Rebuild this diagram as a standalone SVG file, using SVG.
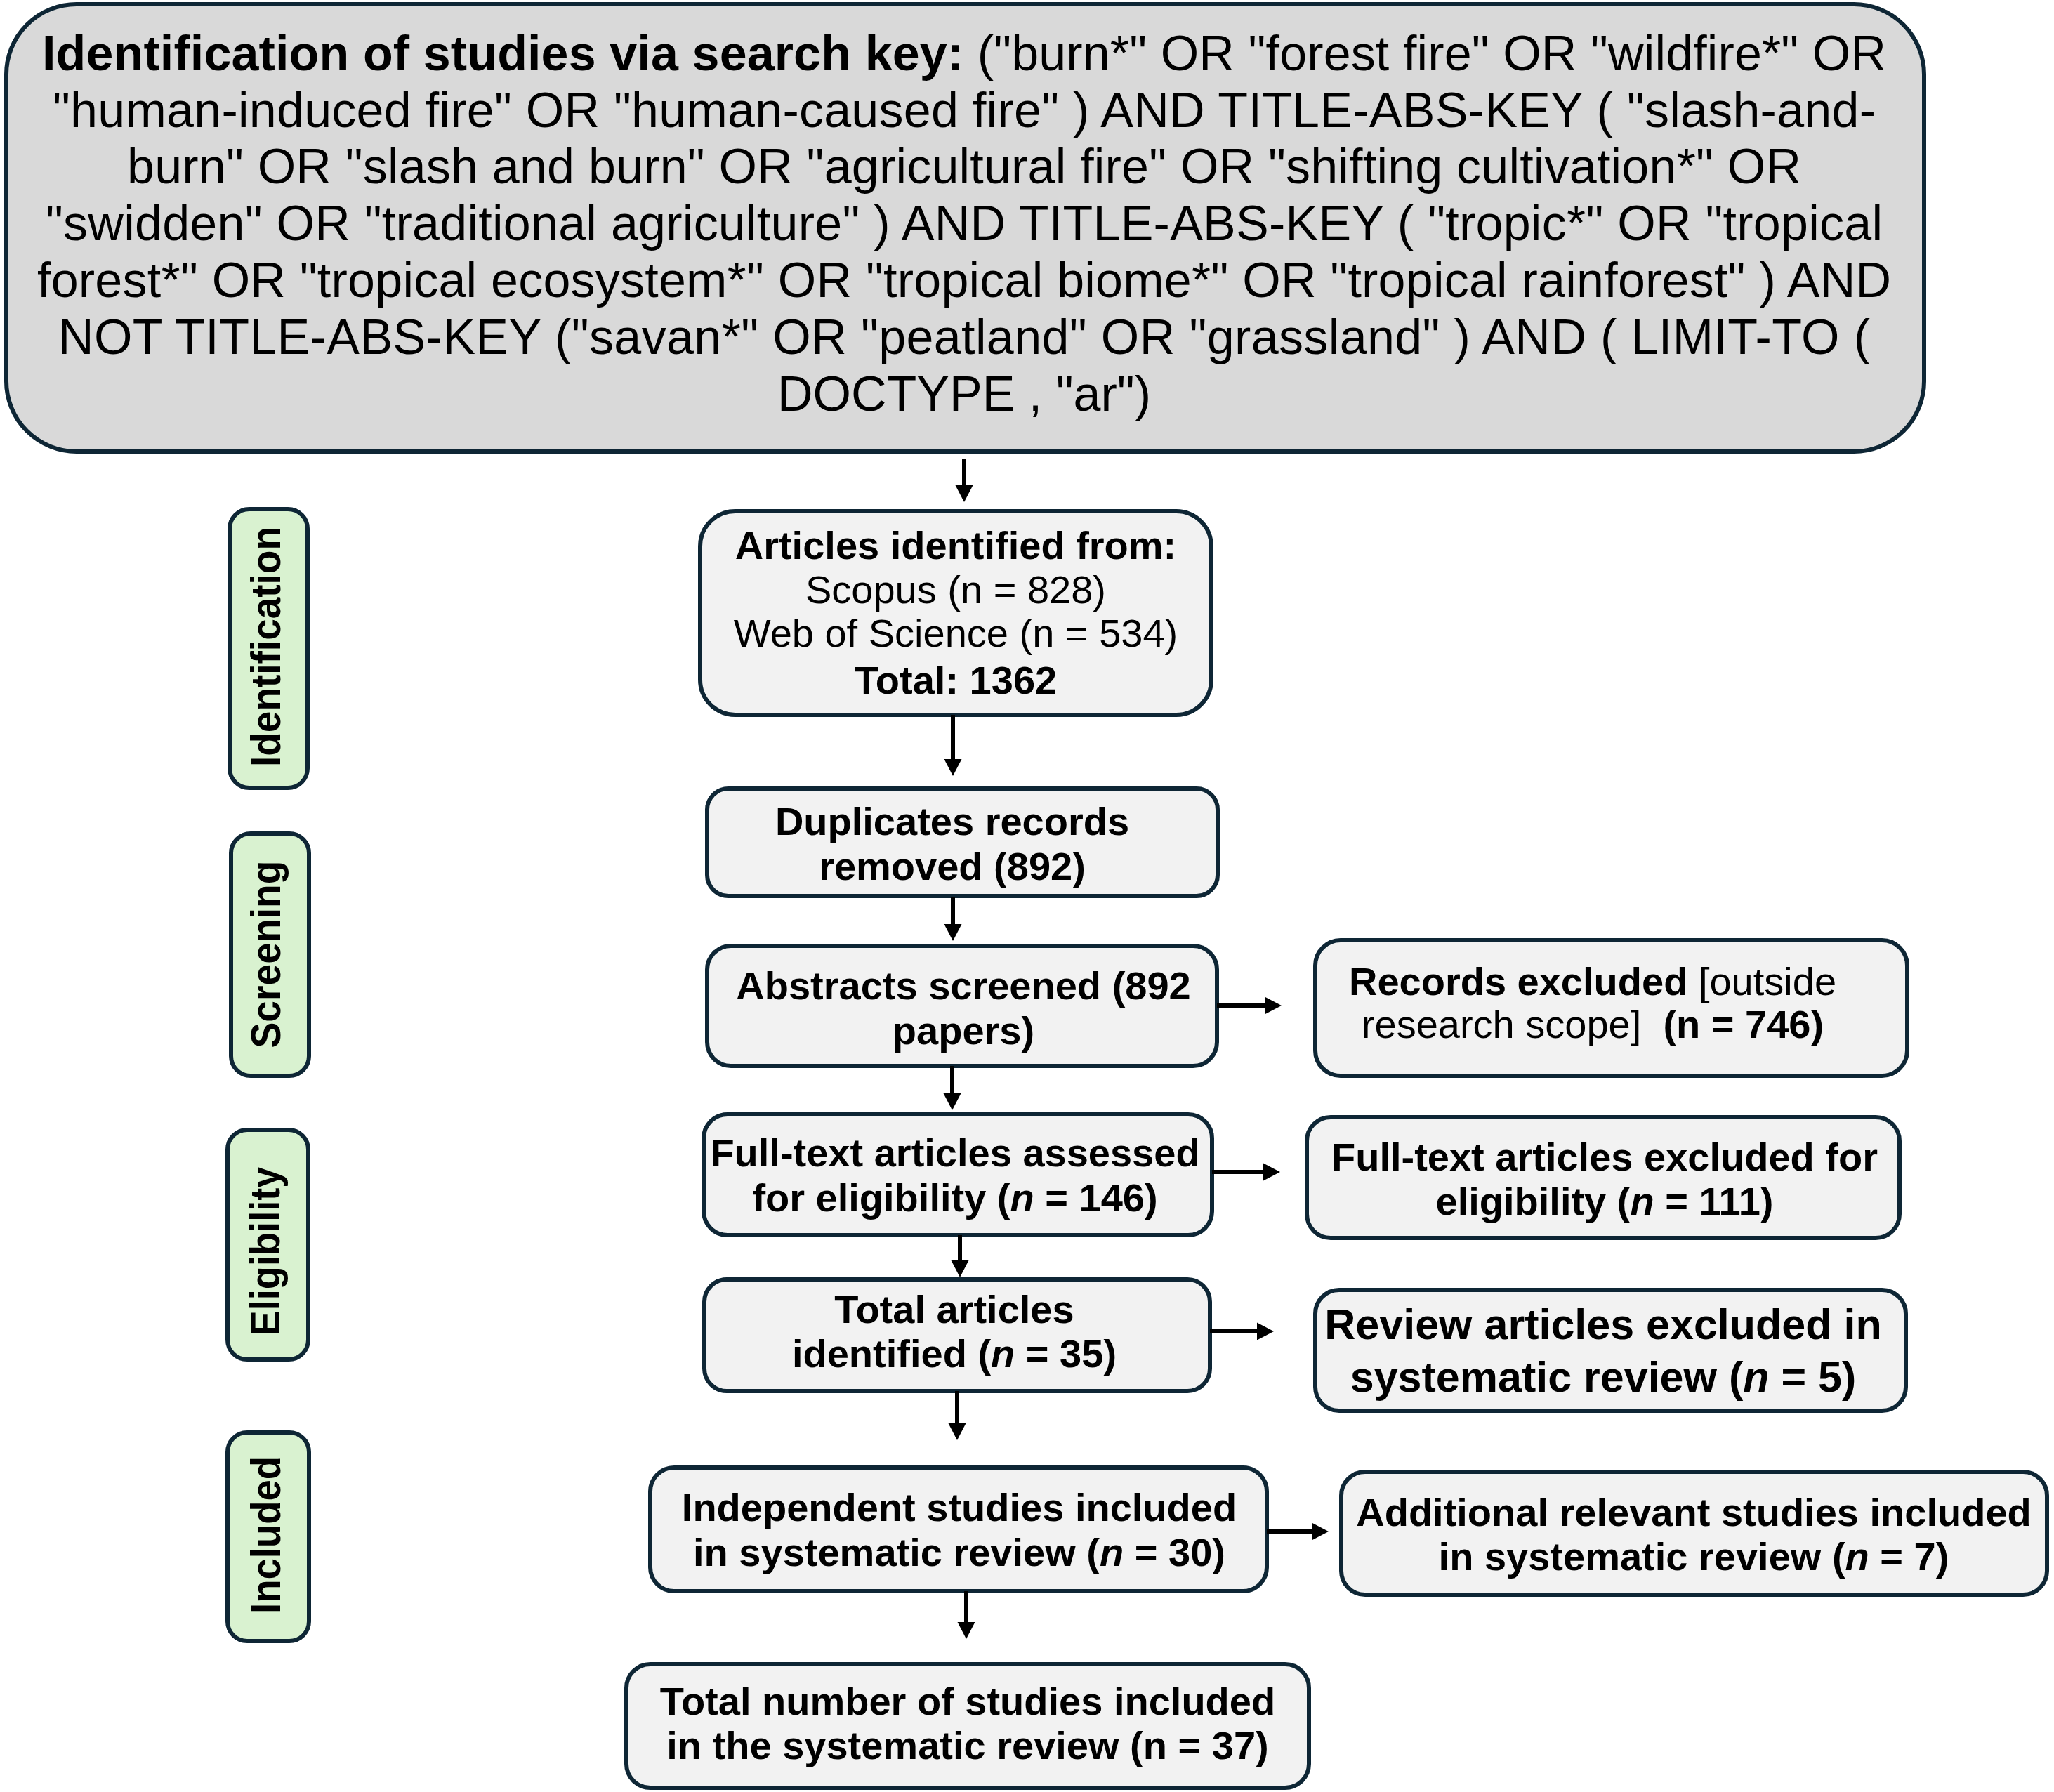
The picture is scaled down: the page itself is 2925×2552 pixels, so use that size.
<svg xmlns="http://www.w3.org/2000/svg" width="2925" height="2552" viewBox="0 0 2925 2552">
<defs>
<style>
.bg{fill:#ffffff}
.top{fill:#d9d9d9;stroke:#0e2635;stroke-width:6}
.box{fill:#f2f2f2;stroke:#0e2635;stroke-width:6}
.side{fill:#d9f2d0;stroke:#0e2635;stroke-width:6}
.t{font-family:"Liberation Sans",Arial,sans-serif;fill:#000;text-anchor:middle;white-space:pre}
.q{font-size:70px}
.n{font-size:56px;font-weight:bold}
.r{font-weight:normal}
.i{font-style:italic}
.s{font-family:"Liberation Sans",Arial,sans-serif;font-size:59px;font-weight:bold;fill:#000;text-anchor:middle}
.c{stroke:#000;stroke-width:6;fill:none}
</style>
<marker id="ah" markerUnits="userSpaceOnUse" markerWidth="26" markerHeight="26" viewBox="0 -13 26 26" refX="0" refY="0" orient="auto">
<path d="M0,-12.5 L24,0 L0,12.5 Z" fill="#000"/>
</marker>
</defs>
<rect class="bg" x="0" y="0" width="2925" height="2552"/>

<g id="search-key">
<rect class="top" x="9" y="6" width="2731" height="637" rx="100" ry="100"/>
<text class="t q" x="1373" y="100" textLength="2626" lengthAdjust="spacing"><tspan font-weight="bold">Identification of studies via search key:</tspan> ("burn*" OR "forest fire" OR "wildfire*" OR</text>
<text class="t q" x="1373" y="181" textLength="2596" lengthAdjust="spacing">"human-induced fire" OR "human-caused fire" ) AND TITLE-ABS-KEY ( "slash-and-</text>
<text class="t q" x="1373" y="261" textLength="2384" lengthAdjust="spacing">burn" OR "slash and burn" OR "agricultural fire" OR "shifting cultivation*" OR</text>
<text class="t q" x="1373" y="342" textLength="2616" lengthAdjust="spacing">"swidden" OR "traditional agriculture" ) AND TITLE-ABS-KEY ( "tropic*" OR "tropical</text>
<text class="t q" x="1373" y="423" textLength="2640" lengthAdjust="spacing">forest*" OR "tropical ecosystem*" OR "tropical biome*" OR "tropical rainforest" ) AND</text>
<text class="t q" x="1373" y="504" textLength="2580" lengthAdjust="spacing">NOT TITLE-ABS-KEY ("savan*" OR "peatland" OR "grassland" ) AND ( LIMIT-TO (</text>
<text class="t q" x="1373" y="585">DOCTYPE , "ar")</text>
</g>

<g id="label-identification">
<rect class="side" x="327" y="725" width="111" height="397" rx="28" ry="28"/>
<text class="s" x="399" y="921" transform="rotate(-90 399 921)" textLength="342" lengthAdjust="spacingAndGlyphs">Identification</text>
</g>
<g id="label-screening">
<rect class="side" x="329" y="1187" width="111" height="345" rx="28" ry="28"/>
<text class="s" x="399" y="1359" transform="rotate(-90 399 1359)" textLength="267" lengthAdjust="spacingAndGlyphs">Screening</text>
</g>
<g id="label-eligibility">
<rect class="side" x="324" y="1609" width="115" height="327" rx="28" ry="28"/>
<text class="s" x="398" y="1782" transform="rotate(-90 398 1782)" textLength="241" lengthAdjust="spacingAndGlyphs">Eligibility</text>
</g>
<g id="label-included">
<rect class="side" x="324" y="2040" width="116" height="297" rx="28" ry="28"/>
<text class="s" x="399" y="2186" transform="rotate(-90 399 2186)" textLength="224" lengthAdjust="spacingAndGlyphs">Included</text>
</g>

<g id="articles-identified">
<rect class="box" x="997" y="728" width="728" height="290" rx="50" ry="50"/>
<text class="t n" x="1361" y="796">Articles identified from:</text>
<text class="t n r" x="1361" y="859">Scopus (n = 828)</text>
<text class="t n r" x="1361" y="921">Web of Science (n = 534)</text>
<text class="t n" x="1361" y="988">Total: 1362</text>
</g>

<g id="duplicates-removed">
<rect class="box" x="1007" y="1123" width="727" height="153" rx="30" ry="30"/>
<text class="t n" x="1356" y="1189">Duplicates records</text>
<text class="t n" x="1356" y="1253">removed (892)</text>
</g>

<g id="abstracts-screened">
<rect class="box" x="1007" y="1347" width="726" height="171" rx="34" ry="34"/>
<text class="t n" x="1372" y="1423">Abstracts screened (892</text>
<text class="t n" x="1372" y="1487">papers)</text>
</g>

<g id="records-excluded">
<rect class="box" x="1873" y="1339" width="843" height="193" rx="36" ry="36"/>
<text class="t n" x="2268" y="1417">Records excluded<tspan class="r"> [outside</tspan></text>
<text class="t n" x="2268" y="1478"><tspan class="r">research scope]</tspan>  (n = 746)</text>
</g>

<g id="fulltext-assessed">
<rect class="box" x="1002" y="1587" width="724" height="172" rx="34" ry="34"/>
<text class="t n" x="1360" y="1661">Full-text articles assessed</text>
<text class="t n" x="1360" y="1725">for eligibility (<tspan class="i">n</tspan> = 146)</text>
</g>

<g id="fulltext-excluded">
<rect class="box" x="1861" y="1591" width="844" height="172" rx="34" ry="34"/>
<text class="t n" x="2285" y="1667">Full-text articles excluded for</text>
<text class="t n" x="2285" y="1730">eligibility (<tspan class="i">n</tspan> = 111)</text>
</g>

<g id="total-articles">
<rect class="box" x="1003" y="1822" width="720" height="159" rx="32" ry="32"/>
<text class="t n" x="1359" y="1884">Total articles</text>
<text class="t n" x="1359" y="1947">identified (<tspan class="i">n</tspan> = 35)</text>
</g>

<g id="review-excluded">
<rect class="box" x="1873" y="1837" width="841" height="172" rx="34" ry="34"/>
<text class="t n" x="2283" y="1907" style="font-size:61px">Review articles excluded in</text>
<text class="t n" x="2283" y="1982" style="font-size:61px">systematic review (<tspan class="i">n</tspan> = 5)</text>
</g>

<g id="independent-studies">
<rect class="box" x="926" y="2090" width="878" height="176" rx="34" ry="34"/>
<text class="t n" x="1366" y="2166">Independent studies included</text>
<text class="t n" x="1366" y="2230">in systematic review (<tspan class="i">n</tspan> = 30)</text>
</g>

<g id="additional-studies">
<rect class="box" x="1910" y="2096" width="1005" height="175" rx="34" ry="34"/>
<text class="t n" x="2412" y="2173">Additional relevant studies included</text>
<text class="t n" x="2412" y="2236">in systematic review (<tspan class="i">n</tspan> = 7)</text>
</g>

<g id="total-studies">
<rect class="box" x="892" y="2370" width="972" height="176" rx="34" ry="34"/>
<text class="t n" x="1378" y="2442">Total number of studies included</text>
<text class="t n" x="1378" y="2505">in the systematic review (n = 37)</text>
</g>

<g id="connectors">
<path class="c" d="M1373,653 V691" marker-end="url(#ah)"/>
<path class="c" d="M1357,1018 V1081" marker-end="url(#ah)"/>
<path class="c" d="M1357,1278 V1316" marker-end="url(#ah)"/>
<path class="c" d="M1356,1518 V1557" marker-end="url(#ah)"/>
<path class="c" d="M1733,1432 H1801" marker-end="url(#ah)"/>
<path class="c" d="M1367,1759 V1795" marker-end="url(#ah)"/>
<path class="c" d="M1726,1669 H1799" marker-end="url(#ah)"/>
<path class="c" d="M1723,1896 H1790" marker-end="url(#ah)"/>
<path class="c" d="M1363,1981 V2027" marker-end="url(#ah)"/>
<path class="c" d="M1804,2181 H1868" marker-end="url(#ah)"/>
<path class="c" d="M1376,2266 V2310" marker-end="url(#ah)"/>
</g>
</svg>
